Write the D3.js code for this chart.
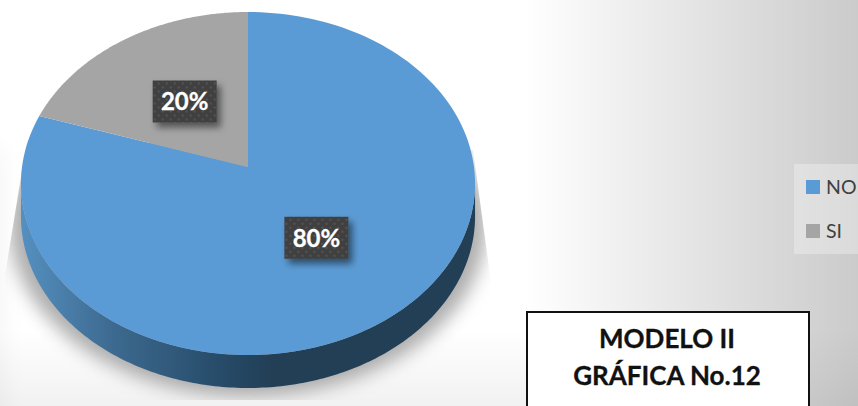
<!DOCTYPE html>
<html><head><meta charset="utf-8">
<script src="https://cdn.jsdelivr.net/npm/d3@7/dist/d3.min.js"></script>
<style>html,body{margin:0;padding:0;background:#fff;overflow:hidden}svg{display:block}</style>
</head><body><svg id="c" width="858" height="406"></svg>
<script>
const categories = ["NO", "SI"];
const seriesValues = [80, 20];
const sliceColors = ["#5b9bd5", "#a5a5a5"];
const percentLabels = ["80%", "20%"];
const titleLines = ["MODELO II", "GRÁFICA No.12"];

const W = 858, H = 406;
const svg = d3.select("#c");
const defs = svg.append("defs");
const gradient = (id, attrs, stops) => {
  const g = defs.append("linearGradient").attr("id", id).attr("gradientUnits", "userSpaceOnUse");
  Object.entries(attrs).forEach(([k, v]) => g.attr(k, v));
  stops.forEach(([o, c, a]) => g.append("stop").attr("offset", o).attr("stop-color", c).attr("stop-opacity", a === undefined ? 1 : a));
};

// page background: white fading to grey on the right, slight vignette low and left
gradient("bg", {x1: 525, y1: 0, x2: 858, y2: 0}, [[0, "#ffffff"], [1, "#cbcbcb"]]);
gradient("bottomFade", {x1: 0, y1: 330, x2: 0, y2: 406}, [[0, "#000", 0], [1, "#000", 0.055]]);
defs.append("filter").attr("id", "soft").attr("x", "-200%").attr("y", "-30%").attr("width", "500%").attr("height", "160%")
  .append("feGaussianBlur").attr("stdDeviation", 14);
svg.append("rect").attr("width", W).attr("height", H).attr("fill", "url(#bg)");
svg.append("rect").attr("width", W).attr("height", H).attr("fill", "url(#bottomFade)");
svg.append("rect").attr("x", -30).attr("y", 150).attr("width", 30).attr("height", H).attr("fill", "#000").attr("opacity", 0.05).attr("filter", "url(#soft)");

// perspective projection of the unit disc
const cx = 248, cy = 167, B = 226, A = 169.9, k = 0.0962, depth = 33;
const project = (a, r = 1) => {
  const u = r * Math.sin(a), v = -r * Math.cos(a), w = 1 - k * v;
  return [cx + B * u / w, cy + A * v / w];
};
const pie = d3.pie().sort(null).startAngle(0).endAngle(2 * Math.PI);
const arcs = pie(seriesValues);
const line = d3.line();
const samples = (a0, a1, n = 160) => d3.range(n + 1).map(i => a0 + (a1 - a0) * i / n);
const wedge = d => line([[cx, cy], ...samples(d.startAngle, d.endAngle).map(a => project(a))]) + "Z";

// clipped, blurred cast shadow
defs.append("filter").attr("id", "blur").attr("x", "-30%").attr("y", "-30%").attr("width", "160%").attr("height", "160%")
  .append("feGaussianBlur").attr("stdDeviation", 9);
defs.append("clipPath").attr("id", "shadowClip").append("path")
  .attr("d", "M27,140 L5,275 L5,400 L500,400 L490,275 L473,150 Z");
const full = samples(0, 2 * Math.PI, 240);
svg.append("g").attr("clip-path", "url(#shadowClip)")
  .append("path").attr("fill", "#6a6a6a").attr("opacity", 0.55).attr("filter", "url(#blur)")
  .attr("d", line(full.map(a => {
    const p = project(a);
    return [cx + (p[0] - cx) * 1.05, p[1] + depth + 8];
  })) + "Z");

// side wall
gradient("side", {x1: 21, y1: 0, x2: 475, y2: 0},
  [[0, "#5590c0"], [0.2, "#3d6a90"], [0.45, "#264a67"], [0.55, "#223f56"], [1, "#223f56"]]);
const rim = samples(-Math.PI / 2 - 0.1, -3 * Math.PI / 2 + 0.1, 200).map(a => project(a));
const bottom = rim.map(p => [p[0], p[1] + depth]).reverse();
svg.append("path").attr("fill", "url(#side)").attr("d", line([...rim, ...bottom]) + "Z");

// top slices
svg.append("g").selectAll("path").data(arcs).join("path")
  .attr("d", wedge).attr("fill", (d, i) => sliceColors[i]);

// data labels
const dots = defs.append("pattern").attr("id", "dots").attr("patternUnits", "userSpaceOnUse").attr("width", 8).attr("height", 8);
dots.append("rect").attr("width", 8).attr("height", 8).attr("fill", "#3f3f3f");
dots.append("rect").attr("x", 1).attr("y", 1).attr("width", 2).attr("height", 2).attr("fill", "#555555");
dots.append("rect").attr("x", 5).attr("y", 5).attr("width", 2).attr("height", 2).attr("fill", "#555555");
const ds = defs.append("filter").attr("id", "ds").attr("x", "-30%").attr("y", "-30%").attr("width", "160%").attr("height", "170%");
ds.append("feDropShadow").attr("dx", 4).attr("dy", 5).attr("stdDeviation", 3.5).attr("flood-color", "#000").attr("flood-opacity", 0.5);
const lab = svg.append("g").selectAll("g").data(arcs).join("g")
  .attr("transform", d => {
    const p = project((d.startAngle + d.endAngle) / 2, 0.495);
    return `translate(${p[0]},${p[1]})`;
  });
lab.append("rect").attr("x", -32).attr("y", -21).attr("width", 64).attr("height", 42)
  .attr("fill", "url(#dots)").attr("filter", "url(#ds)");
lab.append("text").attr("text-anchor", "middle").attr("y", 9).attr("fill", "#fff")
  .attr("stroke", "#fff").attr("stroke-width", 0.3)
  .attr("font-family", "Lato, sans-serif").attr("font-weight", 700).attr("font-size", 24)
  .text((d, i) => percentLabels[i]);

// legend
svg.append("rect").attr("x", 794).attr("y", 164).attr("width", 64).attr("height", 90).attr("fill", "#fff").attr("opacity", 0.3);
const ly = d3.scalePoint().domain(categories).range([187, 231]);
const lg = svg.append("g").selectAll("g").data(categories).join("g")
  .attr("transform", d => `translate(806,${ly(d)})`);
lg.append("rect").attr("y", -7).attr("width", 14).attr("height", 14).attr("fill", (d, i) => sliceColors[i]);
lg.append("text").attr("x", 20).attr("y", 6.5).attr("fill", "#404040")
  .attr("font-family", "Lato, sans-serif").attr("font-size", 19.5).text(d => d);

// title box
svg.append("rect").attr("x", 527).attr("y", 312).attr("width", 282).attr("height", 110)
  .attr("fill", "#fff").attr("stroke", "#111").attr("stroke-width", 2);
svg.append("g").selectAll("text").data(titleLines).join("text")
  .attr("x", 667).attr("y", (d, i) => 348 + i * 37).attr("text-anchor", "middle").attr("fill", "#111")
  .attr("stroke", "#111").attr("stroke-width", 0.3)
  .attr("font-family", "Lato, sans-serif").attr("font-weight", 700).attr("font-size", 26).text(d => d);
</script></body></html>
